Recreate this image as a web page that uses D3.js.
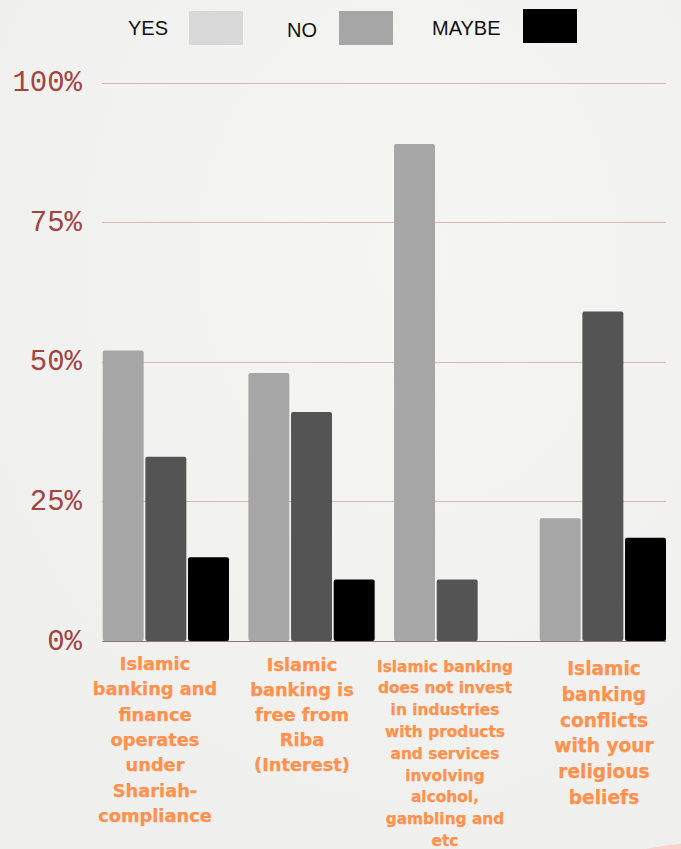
<!DOCTYPE html>
<html>
<head>
<meta charset="utf-8">
<script src="https://cdn.jsdelivr.net/npm/d3@7"></script>
<style>
  html, body { margin: 0; padding: 0; background: #f2f2f0; }
  svg { display: block; }
</style>
</head>
<body>
<div id="chart"></div>
<script>
// data (percent)
var categories = [
  'Islamic banking and finance operates under Shariah-compliance',
  'Islamic banking is free from Riba (Interest)',
  'Islamic banking does not invest in industries with products and services involving alcohol, gambling and etc',
  'Islamic banking conflicts with your religious beliefs'
];
var seriesNames = ['YES', 'NO', 'MAYBE'];
var yesValues = [52, 48, 89, 22];
var noValues = [33, 41, 11, 59];
var maybeValues = [15, 11, 0, 18.5];
var yTicks = [0, 25, 50, 75, 100];

// wrapped label lines as shown in the chart
var labelLines = [
  ['Islamic', 'banking and', 'finance', 'operates', 'under', 'Shariah-', 'compliance'],
  ['Islamic', 'banking is', 'free from', 'Riba', '(Interest)'],
  ['Islamic banking', 'does not invest', 'in industries', 'with products', 'and services', 'involving', 'alcohol,', 'gambling and', 'etc'],
  ['Islamic', 'banking', 'conflicts', 'with your', 'religious', 'beliefs']
];

var width = 681, height = 849;
var barColors = ['#a6a6a6', '#545454', '#000000'];
var legendColors = ['#d9d9d9', '#a6a6a6', '#000000'];

var rows = categories.map(function(c, i) {
  return { cat: c, vals: [yesValues[i], noValues[i], maybeValues[i]] };
});

var svg = d3.select('#chart').append('svg')
  .attr('width', width)
  .attr('height', height);

// paper background
var defs = svg.append('defs');
var grad = defs.append('radialGradient').attr('id', 'paper').attr('cx', '60%').attr('cy', '30%').attr('r', '80%');
grad.append('stop').attr('offset', '0%').attr('stop-color', '#f5f5f3');
grad.append('stop').attr('offset', '100%').attr('stop-color', '#efefed');
svg.append('rect').attr('width', width).attr('height', height).attr('fill', 'url(#paper)');
svg.append('ellipse')
  .attr('cx', 680).attr('cy', 858).attr('rx', 75).attr('ry', 14)
  .attr('transform', 'rotate(-6,680,858)')
  .attr('fill', '#f9d2cb');

var x0 = d3.scaleBand().domain(categories).range([102.7, 666]).paddingInner(0.133).paddingOuter(0);
var x1 = d3.scaleBand().domain(seriesNames).range([0, x0.bandwidth()]).paddingInner(0.04);
var y = d3.scaleLinear().domain([0, 100]).range([641, 82.5]);

// gridlines
svg.append('g').selectAll('line')
  .data(yTicks.filter(function(t) { return t > 0; }))
  .enter().append('line')
  .attr('x1', 102).attr('x2', 666)
  .attr('y1', function(d) { return Math.round(y(d)) + 0.5; })
  .attr('y2', function(d) { return Math.round(y(d)) + 0.5; })
  .attr('stroke', '#dcb6b1').attr('stroke-width', 1);

// y labels
svg.append('g').selectAll('text')
  .data(yTicks)
  .enter().append('text')
  .attr('x', 82)
  .attr('y', function(d) { return y(d); })
  .attr('dy', '0.3em')
  .attr('text-anchor', 'end')
  .attr('font-family', 'Liberation Mono, monospace')
  .attr('font-size', 29)
  .attr('fill', '#a2443f')
  .text(function(d) { return d + '%'; });

// bars
var groups = svg.append('g').selectAll('g')
  .data(rows)
  .enter().append('g')
  .attr('transform', function(d) { return 'translate(' + x0(d.cat) + ',0)'; });

groups.selectAll('rect')
  .data(function(d) { return d.vals.map(function(v, i) { return { key: seriesNames[i], v: v, i: i }; }); })
  .enter().append('rect')
  .attr('x', function(d) { return x1(d.key); })
  .attr('y', function(d) { return y(d.v); })
  .attr('width', x1.bandwidth())
  .attr('height', function(d) { return y(0) - y(d.v); })
  .attr('rx', 2)
  .attr('fill', function(d) { return barColors[d.i]; });

// baseline
svg.append('line')
  .attr('x1', 102).attr('x2', 666)
  .attr('y1', y(0) + 0.5).attr('y2', y(0) + 0.5)
  .attr('stroke', '#8c7572').attr('stroke-width', 1.2);

// category labels
var labelStyle = [
  { cx: 155, top: 670, size: 17.8, lh: 25.3 },
  { cx: 302, top: 671, size: 17.8, lh: 25 },
  { cx: 445, top: 671.5, size: 15.4, lh: 21.8 },
  { cx: 604, top: 675, size: 18.6, lh: 25.8 }
];
labelLines.forEach(function(lines, i) {
  var st = labelStyle[i];
  var t = svg.append('text')
    .attr('text-anchor', 'middle')
    .attr('font-family', 'DejaVu Sans')
    .attr('font-weight', 'bold')
    .attr('font-size', st.size)
    .attr('fill', '#ff914d')
    .attr('stroke', '#ff914d').attr('stroke-width', 0.25);
  lines.forEach(function(l, j) {
    t.append('tspan').attr('x', st.cx).attr('y', st.top + j * st.lh).text(l);
  });
});

// legend
var legend = [
  { name: 'YES', tx: 128, ty: 35, bx: 189, by: 11 },
  { name: 'NO', tx: 287, ty: 37, bx: 339, by: 11 },
  { name: 'MAYBE', tx: 432, ty: 35, bx: 523, by: 9 }
];
var lg = svg.append('g').selectAll('g').data(legend).enter().append('g');
lg.append('text')
  .attr('x', function(d) { return d.tx; })
  .attr('y', function(d) { return d.ty; })
  .attr('font-family', 'Liberation Sans, Arial')
  .attr('font-size', 20)
  .attr('fill', '#111')
  .text(function(d) { return d.name; });
lg.append('rect')
  .attr('x', function(d) { return d.bx; })
  .attr('y', function(d) { return d.by; })
  .attr('width', 54).attr('height', 34)
  .attr('fill', function(d, i) { return legendColors[i]; });
</script>
</body>
</html>
